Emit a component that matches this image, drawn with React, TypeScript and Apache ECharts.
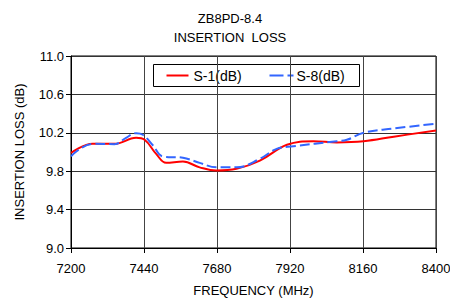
import React, { useEffect, useRef } from "react";
import * as echarts from "echarts";

const titleLines = ["ZB8PD-8.4", "INSERTION  LOSS"];
const s1Name = "S-1(dB)";
const s8Name = "S-8(dB)";
const freqS1 = [7200, 7271, 7343, 7414, 7442, 7480, 7513, 7568, 7623, 7678, 7744, 7821, 7910, 7997, 8074, 8162, 8261, 8400];
const lossS1 = [9.99, 10.085, 10.085, 10.148, 10.127, 9.98, 9.887, 9.9, 9.84, 9.807, 9.825, 9.91, 10.075, 10.112, 10.1, 10.112, 10.16, 10.224];
const freqS8 = [7200, 7271, 7343, 7381, 7414, 7436, 7469, 7502, 7568, 7623, 7678, 7744, 7821, 7876, 7931, 8074, 8107, 8162, 8261, 8400];
const lossS8 = [9.956, 10.085, 10.082, 10.148, 10.196, 10.18, 10.07, 9.953, 9.94, 9.887, 9.84, 9.84, 9.929, 10.033, 10.06, 10.112, 10.127, 10.2, 10.245, 10.294];

const FONT = "'Liberation Sans', Arial, sans-serif";
const RED = "#ff0000";
const BLUE = "#3366ff";
const DASH = [10, 4];

export default function App() {
  const ref = useRef<HTMLDivElement>(null);
  useEffect(() => {
    const chart = echarts.init(ref.current!, null, { renderer: "svg" });
    const textStyle = { fontFamily: FONT, fontSize: 14, fill: "#000" };
    const titleStyle = { fontFamily: FONT, fontSize: 13, fontWeight: "normal", color: "#000", lineHeight: 13 };
    chart.setOption({
      animation: false,
      backgroundColor: "#fff",
      textStyle: { fontFamily: FONT },
      title: [
        { text: titleLines[0], left: 230, top: 12, padding: 0, textAlign: "center", textStyle: titleStyle },
        { text: titleLines[1], left: 230, top: 31, padding: 0, textAlign: "center", textStyle: titleStyle },
      ],
      graphic: [
        {
          type: "group",
          left: 153,
          top: 64,
          z: 100,
          children: [
            { type: "rect", shape: { x: 0, y: 0, width: 206, height: 22 }, style: { fill: "#fff", stroke: "#000", lineWidth: 1 } },
            { type: "line", shape: { x1: 13, y1: 11, x2: 35, y2: 11 }, style: { stroke: RED, lineWidth: 2 } },
            { type: "text", x: 40, y: 11.5, style: { ...textStyle, text: s1Name, verticalAlign: "middle" } },
            { type: "line", shape: { x1: 116, y1: 11, x2: 140, y2: 11 }, style: { stroke: BLUE, lineWidth: 2, lineDash: [14, 4] } },
            { type: "text", x: 143, y: 11.5, style: { ...textStyle, text: s8Name, verticalAlign: "middle" } },
          ],
        },
      ],
      grid: {
        left: 71,
        right: 14,
        top: 56,
        bottom: 51,
        show: true,
        borderColor: "#000",
        borderWidth: 1,
        backgroundColor: "transparent",
        outerBoundsMode: "none",
        containLabel: false,
      },
      xAxis: {
        type: "value",
        min: 7200,
        max: 8400,
        interval: 240,
        name: "FREQUENCY (MHz)",
        nameLocation: "middle",
        nameGap: 36,
        nameTextStyle: { fontFamily: FONT, fontSize: 13, color: "#000" },
        axisLine: { show: true, lineStyle: { color: "#000", width: 1 } },
        axisTick: { show: true, length: 5, lineStyle: { color: "#000" } },
        axisLabel: { color: "#000", fontSize: 13, fontFamily: FONT, margin: 14, formatter: (v: number) => String(v) },
        splitLine: { show: true, lineStyle: { color: "#444", width: 1 } },
      },
      yAxis: {
        type: "value",
        min: 9.0,
        max: 11.0,
        interval: 0.4,
        name: "INSERTION LOSS (dB)",
        nameLocation: "middle",
        nameGap: 45,
        nameTextStyle: { fontFamily: FONT, fontSize: 13, color: "#000" },
        axisLine: { show: true, lineStyle: { color: "#000", width: 1 } },
        axisTick: { show: true, length: 5, lineStyle: { color: "#000" } },
        axisLabel: { color: "#000", fontSize: 13, fontFamily: FONT, margin: 7, formatter: (v: number) => v.toFixed(1) },
        splitLine: { show: true, lineStyle: { color: "#333", width: 1 } },
      },
      series: [
        {
          name: s1Name,
          type: "line",
          smooth: 0.4,
          symbol: "none",
          showSymbol: false,
          lineStyle: { color: RED, width: 2 },
          itemStyle: { color: RED },
          data: freqS1.map((f, i) => [f, lossS1[i]]),
          z: 3,
        },
        {
          name: s8Name,
          type: "line",
          smooth: 0.4,
          symbol: "none",
          showSymbol: false,
          lineStyle: { color: BLUE, width: 2, type: DASH },
          itemStyle: { color: BLUE },
          data: freqS8.map((f, i) => [f, lossS8[i]]),
          z: 4,
        },
      ],
    });
    return () => chart.dispose();
  }, []);
  return <div ref={ref} style={{ position: "fixed", left: 0, top: 0, width: 450, height: 299 }} />;
}
